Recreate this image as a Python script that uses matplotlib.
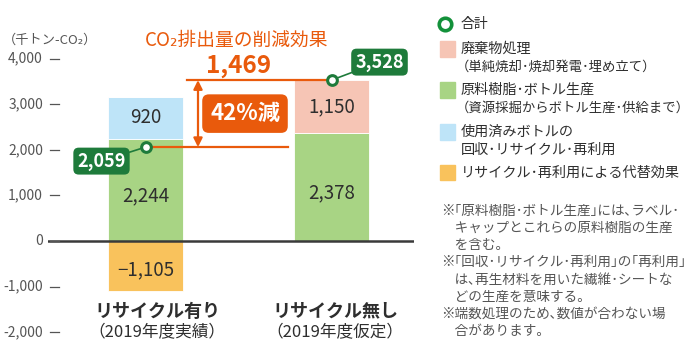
import matplotlib.pyplot as plt
import matplotlib.transforms as mtransforms
from matplotlib.patches import Rectangle
from matplotlib.lines import Line2D

plt.rcParams['font.family'] = ['Noto Sans CJK JP', 'DejaVu Sans']

# data
categories = ['リサイクル有り', 'リサイクル無し']
subtitles = ['（2019年度実績）', '（2019年度仮定）']
resin = [2244, 2378]          # 原料樹脂・ボトル生産
collection = [920, 0]         # 使用済みボトルの回収・リサイクル・再利用
waste = [0, 1150]             # 廃棄物処理
substitution = [-1105, 0]     # リサイクル・再利用による代替効果
totals = [2059, 3528]
reduction = 1469
reduction_label = '42%減'
yticks = [4000, 3000, 2000, 1000, 0, -1000, -2000]

# half-width dots / brackets to mimic the tight typesetting of the original
legend_items = [
    ('廃棄物処理', '（単純焼却･焼却発電･埋め立て）'),
    ('原料樹脂･ボトル生産', '（資源採掘からボトル生産･供給まで）'),
    ('使用済みボトルの', '回収･リサイクル･再利用'),
    ('リサイクル･再利用による代替効果', None),
]
notes = [
    '※｢原料樹脂･ボトル生産｣には､ラベル･',
    '　キャップとこれらの原料樹脂の生産',
    '　を含む。',
    '※｢回収･リサイクル･再利用｣の｢再利用｣',
    '　は､再生材料を用いた繊維･シートな',
    '　どの生産を意味する。',
    '※端数処理のため､数値が合わない場',
    '　合があります。',
]

GREEN = '#a8d484'
BLUE = '#bee4f8'
PINK = '#f6c5b5'
YELLOW = '#f9c25c'
DKGREEN = '#1e7b3b'
ORANGE = '#e95a0c'
TXT = '#2e2e2e'
GRAY = '#555555'

W, H = 690, 359
fig = plt.figure(figsize=(W / 100, H / 100), dpi=100)


def fx(x):
    return x / W


def fy(y):
    return 1 - y / H


# axes placed so that 0 sits at y=241 px, 1000 units = 45.6 px
ax = fig.add_axes([fx(48), 0, (414 - 48) / W, 1])
pxk = 45.6
zero_y = 241
ax.set_ylim(-(H - zero_y) / pxk * 1000, zero_y / pxk * 1000)
ax.set_xlim(-(145.5 - 48) / 186, 1 + (414 - 331.5) / 186)
ax.axis('off')

x = [0, 1]
bw = 75 / 186
seg_bottom = [r + c for r, c in zip(resin, collection)]
ax.bar(x, resin, bw, color=GREEN, edgecolor='white', linewidth=0.6, zorder=2)
ax.bar(x, collection, bw, bottom=resin, color=BLUE, edgecolor='white', linewidth=0.6, zorder=2)
ax.bar(x, waste, bw, bottom=seg_bottom, color=PINK, edgecolor='white', linewidth=0.6, zorder=2)
ax.bar(x, substitution, bw, color=YELLOW, edgecolor='white', linewidth=0.6, zorder=2)

# segment value labels
for i in x:
    segs = [(0, resin[i], -140), (resin[i], collection[i], 0),
            (seg_bottom[i], waste[i], 0), (0, substitution[i], -80)]
    for b, v, off in segs:
        if v == 0:
            continue
        lab = f'{v:,}' if v > 0 else '−' + f'{-v:,}'
        ax.text(i, b + v / 2 + off, lab, ha='center', va='center', fontsize=13.5,
                color=TXT, zorder=5)

ax.axhline(0, color='#3a3a3a', lw=1.8, zorder=3)

# y tick labels with dashes
bt = mtransforms.blended_transform_factory(fig.transFigure, ax.transData)
for t in yticks:
    fig.text(fx(43), t, f'{t:,}', transform=bt, ha='right', va='center',
             fontsize=10, color=GRAY)
    fig.add_artist(Line2D([fx(50), fx(59)], [t, t], transform=bt, color=GRAY, lw=0.9))

fig.text(fx(3), fy(40), '（千トン-CO₂）', ha='left', va='center', fontsize=9.5, color=GRAY)

# category labels
cat_x = [157, 335]
for cx, c, s in zip(cat_x, categories, subtitles):
    fig.text(fx(cx), fy(311), c, ha='center', va='center', fontsize=13,
             fontweight='bold', color=TXT)
    fig.text(fx(cx), fy(333), s, ha='center', va='center', fontsize=12, color=TXT)

# reduction lines and arrow
ax.plot([(187 - 145.5) / 186, 1], [totals[1], totals[1]], color=ORANGE, lw=1.6, zorder=4)
ax.plot([0, (288 - 145.5) / 186], [totals[0], totals[0]], color=ORANGE, lw=1.6, zorder=4)
arr_x = (198 - 145.5) / 186
ax.annotate('', xy=(arr_x, totals[0]), xytext=(arr_x, totals[1]),
            arrowprops=dict(arrowstyle='<|-|>', color=ORANGE, lw=1.6,
                            mutation_scale=13, shrinkA=0, shrinkB=0), zorder=4)
ax.text((245 - 145.5) / 186, (totals[0] + totals[1]) / 2, reduction_label,
        ha='center', va='center', fontsize=16, fontweight='bold', color='white',
        bbox=dict(boxstyle='round,pad=0.35,rounding_size=0.3', fc=ORANGE, ec='none'), zorder=6)

fig.text(fx(239), fy(66), f'{reduction:,}', ha='center', va='center', fontsize=17.5,
         fontweight='bold', color=ORANGE)
fig.text(fx(237), fy(40), 'CO₂排出量の削減効果', ha='center', va='center', fontsize=13.5,
         color=ORANGE)

# totals markers with labels
offsets = [(-44, -14), (48, 18)]
for i in x:
    ax.annotate(f'{totals[i]:,}', xy=(i, totals[i]), xytext=offsets[i],
                textcoords='offset pixels', ha='center', va='center', fontsize=13,
                fontweight='bold', color='white',
                bbox=dict(boxstyle='round,pad=0.22,rounding_size=0.3', fc=DKGREEN, ec='none'),
                arrowprops=dict(arrowstyle='-', color=DKGREEN, lw=1.2, shrinkA=0, shrinkB=3),
                zorder=6)
ax.plot(x, totals, 'o', ms=7, mfc='white', mec=DKGREEN, mew=2.2, zorder=7)

# legend
fig.add_artist(Line2D([fx(445)], [fy(24)], marker='o', ms=9, mfc='white', mec='#13913a',
                      mew=2.6, transform=fig.transFigure))
fig.text(fx(461), fy(24), '合計', ha='left', va='center', fontsize=10, color=TXT)
leg_colors = [PINK, GREEN, BLUE, YELLOW]
leg_y = [49, 90, 132, 173]
for col, yy, (l1, l2) in zip(leg_colors, leg_y, legend_items):
    fig.add_artist(Rectangle((fx(440), fy(yy + 7.5)), 15 / W, 15 / H, color=col,
                             transform=fig.transFigure))
    fig.text(fx(461), fy(yy), l1, ha='left', va='center', fontsize=10.2, color=TXT)
    if l2:
        paren = l2.startswith('（')
        fig.text(fx(456 if paren else 461), fy(yy + 18), l2, ha='left',
                 va='center', fontsize=9.6 if paren else 10.2, color=TXT)

# notes
for k, line in enumerate(notes):
    fig.text(fx(441), fy(211 + 17.1 * k), line, ha='left', va='center', fontsize=9.8,
             color=GRAY)

fig.savefig('out.png', dpi=100)
